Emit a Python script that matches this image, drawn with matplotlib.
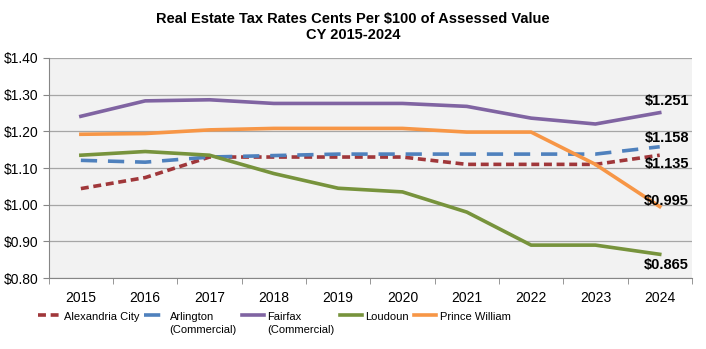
import matplotlib.pyplot as plt
from matplotlib.legend_handler import HandlerLine2D
from matplotlib.ticker import FuncFormatter

plt.rcParams['font.family'] = ['Liberation Sans', 'DejaVu Sans']

years = ["2015", "2016", "2017", "2018", "2019", "2020", "2021", "2022", "2023", "2024"]

alexandria = [1.044, 1.074, 1.130, 1.130, 1.130, 1.130, 1.110, 1.110, 1.110, 1.135]
arlington = [1.121, 1.116, 1.130, 1.134, 1.138, 1.138, 1.138, 1.138, 1.138, 1.158]
fairfax = [1.241, 1.283, 1.286, 1.276, 1.276, 1.276, 1.268, 1.236, 1.220, 1.251]
loudoun = [1.135, 1.145, 1.135, 1.085, 1.045, 1.035, 0.980, 0.890, 0.890, 0.865]
prince_william = [1.192, 1.194, 1.204, 1.208, 1.208, 1.208, 1.198, 1.198, 1.110, 0.995]


class TopLineHandler(HandlerLine2D):
    # put the legend line next to the first text line, like Excel does
    def create_artists(self, legend, orig_handle, xdescent, ydescent, width, height, fontsize, trans):
        shift = 0.75 * fontsize
        return super().create_artists(legend, orig_handle, xdescent, ydescent - 2 * shift,
                                      width, height, fontsize, trans)


fig = plt.figure(figsize=(7.06, 3.49), dpi=100)
ax = fig.add_axes([0.069, 0.203, 0.911, 0.631])
ax.set_facecolor('#F2F2F2')

x = range(len(years))
lw = 2.6
ax.plot(x, alexandria, color='#A0373A', lw=lw, linestyle=(0, (2.2, 1.3)), label='Alexandria City\n ')
ax.plot(x, arlington, color='#4F81BD', lw=lw, linestyle=(0, (4.5, 3)), label='Arlington\n(Commercial)')
ax.plot(x, fairfax, color='#8064A2', lw=lw, label='Fairfax\n(Commercial)')
ax.plot(x, loudoun, color='#77933C', lw=lw, label='Loudoun\n ')
ax.plot(x, prince_william, color='#F79646', lw=lw, label='Prince William\n ')

# end labels
last = len(years) - 1
lab_kw = dict(fontsize=10.5, fontweight='bold', ha='center')
ax.annotate(f"${fairfax[-1]:.3f}", (last, fairfax[-1]), xytext=(5, 3), textcoords='offset points', va='bottom', **lab_kw)
ax.annotate(f"${arlington[-1]:.3f}", (last, arlington[-1]), xytext=(5, 1), textcoords='offset points', va='bottom', **lab_kw)
ax.annotate(f"${alexandria[-1]:.3f}", (last, alexandria[-1]), xytext=(5, -1), textcoords='offset points', va='top', **lab_kw)
ax.annotate(f"${prince_william[-1]:.3f}", (last, prince_william[-1]), xytext=(5, -1), textcoords='offset points', va='bottom', **lab_kw)
ax.annotate(f"${loudoun[-1]:.3f}", (last, loudoun[-1]), xytext=(5, -3), textcoords='offset points', va='top', **lab_kw)

ax.set_xlim(-0.5, len(years) - 0.5)
ax.set_ylim(0.80, 1.40)
ax.set_yticks([0.8, 0.9, 1.0, 1.1, 1.2, 1.3, 1.4])
ax.yaxis.set_major_formatter(FuncFormatter(lambda v, p: f"${v:.2f}"))
ax.set_xticks(list(x))
ax.set_xticklabels(years)
ax.set_xticks([i + 0.5 for i in range(-1, len(years))], minor=True)
ax.tick_params(axis='x', which='major', length=0, labelsize=10, pad=9)
ax.tick_params(axis='x', which='minor', length=4, color='#868686')
ax.tick_params(axis='y', length=4, color='#868686', labelsize=10)

ax.grid(axis='y', color='#A6A6A6', lw=0.9)
ax.set_axisbelow(True)
for s in ['top', 'right']:
    ax.spines[s].set_visible(False)
ax.spines['left'].set_color('#868686')
ax.spines['bottom'].set_color('#868686')

fig.text(0.5, 0.965, "Real Estate Tax Rates Cents Per $100 of Assessed Value\nCY 2015-2024",
         ha='center', va='top', fontsize=10.5, fontweight='bold', linespacing=1.2)

leg = ax.legend(loc='upper left', bbox_to_anchor=(0.054, 0.106), bbox_transform=fig.transFigure,
                ncol=5, frameon=False, fontsize=8, borderpad=0, borderaxespad=0,
                handlelength=2.0, handletextpad=0.3, columnspacing=0.45,
                handler_map={plt.Line2D: TopLineHandler()})
for t in leg.get_texts():
    t.set_linespacing(1.4)

fig.savefig('out.png', dpi=100)
